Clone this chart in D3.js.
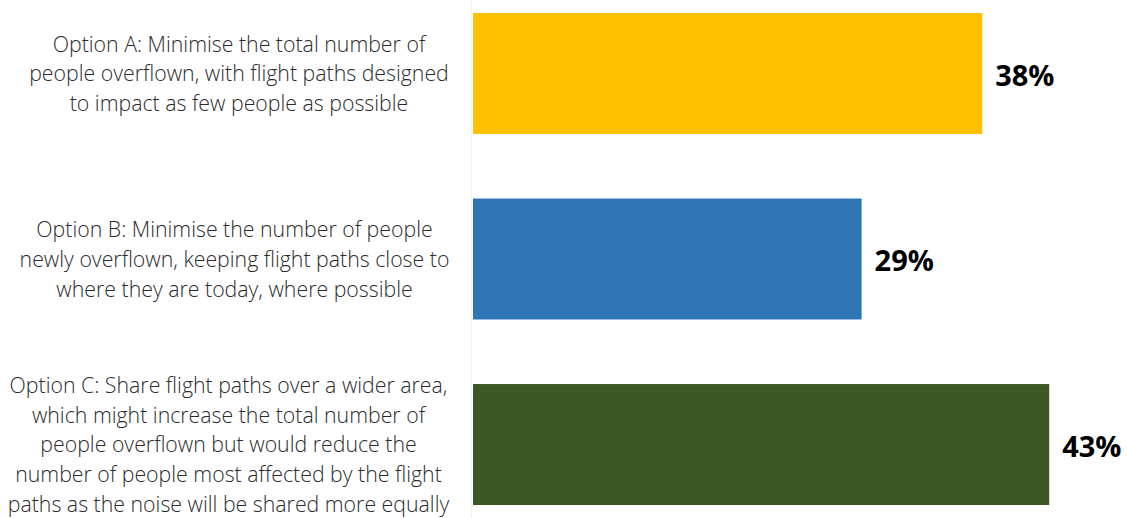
<!DOCTYPE html>
<html><head><meta charset="utf-8">
<script src="https://cdn.jsdelivr.net/npm/d3@7"></script>
<style>body{margin:0;background:#fff;}svg{display:block;}</style>
</head><body>
<svg id="c" width="1127" height="518"></svg>
<script>
const categories = ["A","B","C"];
const values = [38, 29, 43];
const labelLines = [
  ["Option A: Minimise the total number of","people overflown, with flight paths designed","to impact as few people as possible"],
  ["Option B: Minimise the number of people","newly overflown, keeping flight paths close to","where they are today, where possible"],
  ["Option C: Share flight paths over a wider area,","which might increase the total number of","people overflown but would reduce the","number of people most affected by the flight","paths as the noise will be shared more equally"]
];
const colors = ["#FFC000","#2E75B6","#3A5724"];

const svg = d3.select("#c");
const x = d3.scaleLinear().domain([0, 50]).range([473, 473 + 50*13.4]);
const y = d3.scaleBand().domain(categories).range([13, 505]).paddingInner(0.348).paddingOuter(0);

svg.append("line").attr("x1",471.5).attr("x2",471.5).attr("y1",0).attr("y2",518)
  .attr("stroke","#f0f0f0").attr("stroke-width",1);

svg.selectAll("rect.bar").data(categories).join("rect")
  .attr("x", x(0)).attr("y", d=>y(d)).attr("width",(d,i)=>x(values[i])-x(0))
  .attr("height", y.bandwidth()).attr("fill",(d,i)=>colors[i]);

svg.selectAll("text.val").data(categories).join("text")
  .attr("x",(d,i)=>x(values[i])+13).attr("y",d=>y(d)+y.bandwidth()/2+2)
  .attr("dy","0.35em").attr("font-family","'Open Sans', sans-serif")
  .attr("font-weight","bold").attr("font-size",29).attr("fill","#000")
  .text((d,i)=>values[i]+"%");

const lh = 29.8;
const centers = [239, 234.5, 228.5];
categories.forEach((d,i)=>{
  const lines = labelLines[i];
  const cy = y(d)+y.bandwidth()/2 + 0.5;
  const t = svg.append("text").attr("font-family","'Open Sans', sans-serif")
    .attr("font-size",21.3).attr("font-weight",300).attr("fill","#2b2b2b").attr("text-anchor","middle");
  lines.forEach((l,j)=>{
    t.append("tspan").attr("x",centers[i])
      .attr("y", cy + (j-(lines.length-1)/2)*lh).attr("dy","0.35em").text(l);
  });
});
</script>
</body></html>
